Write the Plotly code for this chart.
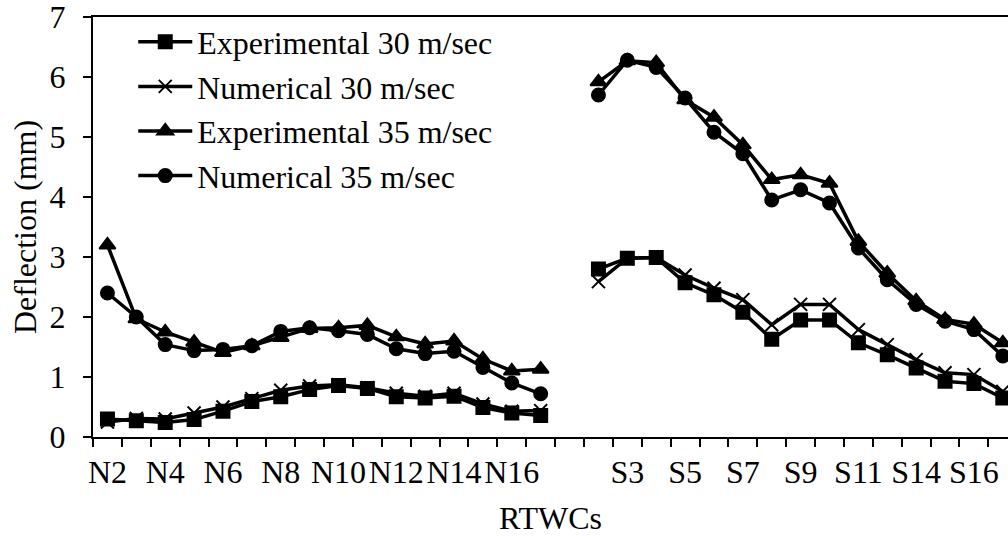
import plotly.graph_objects as go

# RTWC categories; the empty entry separates the N group from the S group
categories = [
    "N2", "N3", "N4", "N5", "N6", "N7", "N8", "N9", "N10", "N11", "N12",
    "N13", "N14", "N15", "N16", "N17", "",
    "S2", "S3", "S4", "S5", "S6", "S7", "S8", "S9", "S10", "S11", "S12",
    "S14", "S15", "S16", "S17",
]

# Deflection (mm), N group then gap then S group
exp_30 = [0.30, 0.27, 0.24, 0.29, 0.43, 0.59, 0.67, 0.79, 0.86, 0.81, 0.67,
          0.65, 0.68, 0.49, 0.40, 0.36, None,
          2.80, 2.98, 2.99, 2.57, 2.37, 2.08, 1.63, 1.95, 1.95, 1.57, 1.37,
          1.15, 0.93, 0.89, 0.65]
num_30 = [0.25, 0.31, 0.30, 0.40, 0.50, 0.64, 0.78, 0.85, 0.87, 0.82, 0.73,
          0.68, 0.73, 0.55, 0.43, 0.44, None,
          2.59, 2.98, 2.99, 2.70, 2.48, 2.29, 1.87, 2.21, 2.21, 1.79, 1.54,
          1.29, 1.07, 1.04, 0.76]
exp_35 = [3.20, 1.97, 1.75, 1.58, 1.41, 1.52, 1.66, 1.81, 1.82, 1.86, 1.67,
          1.55, 1.60, 1.30, 1.10, 1.13, None,
          5.92, 6.27, 6.24, 5.62, 5.33, 4.87, 4.29, 4.37, 4.23, 3.26, 2.73,
          2.27, 1.96, 1.88, 1.57]
num_35 = [2.40, 2.00, 1.54, 1.44, 1.46, 1.52, 1.76, 1.82, 1.77, 1.71, 1.47,
          1.39, 1.43, 1.16, 0.90, 0.72, None,
          5.70, 6.28, 6.16, 5.65, 5.08, 4.72, 3.95, 4.12, 3.90, 3.15, 2.62,
          2.21, 1.93, 1.79, 1.35]

series = [
    ("Experimental 30 m/sec", exp_30, "square", 13),
    ("Numerical 30 m/sec", num_30, "x-thin", 13),
    ("Experimental 35 m/sec", exp_35, "triangle-up", 14),
    ("Numerical 35 m/sec", num_35, "circle", 13),
]

FONT = "Liberation Serif, Times New Roman, serif"
FS = 32
x_pos = list(range(len(categories)))

fig = go.Figure()
for name, values, symbol, size in series:
    fig.add_trace(go.Scatter(
        x=x_pos, y=values, name=name, mode="lines+markers",
        connectgaps=False, cliponaxis=False,
        line=dict(color="black", width=3.5),
        marker=dict(symbol=symbol, size=size, color="black",
                    line=dict(color="black", width=2)),
    ))

label_idx = [i for i in range(0, len(categories), 2)]
fig.update_layout(
    width=1008, height=536,
    margin=dict(l=93, r=0, t=17, b=99),
    paper_bgcolor="white", plot_bgcolor="white",
    font=dict(family=FONT, size=FS, color="black"),
    showlegend=True,
    legend=dict(x=0.044, y=1.006, xanchor="left", yanchor="top",
                bgcolor="rgba(0,0,0,0)", font=dict(size=FS),
                itemwidth=54, tracegroupgap=0),
    xaxis=dict(
        range=[-0.5, 31.18], showgrid=False, zeroline=False,
        showline=True, linecolor="black", linewidth=2, mirror=True,
        tickmode="array", tickvals=label_idx,
        ticktext=[categories[i] for i in label_idx],
        ticks="", tickfont=dict(size=FS), ticklabelstandoff=6,
        minor=dict(tickmode="linear", tick0=-0.5, dtick=1, ticks="outside",
                   ticklen=8, tickwidth=2, tickcolor="black"),
        title=dict(text="RTWCs", font=dict(size=FS), standoff=21),
    ),
    yaxis=dict(
        range=[0, 7], dtick=1, showgrid=False, zeroline=False,
        showline=True, linecolor="black", linewidth=2,
        ticks="outside", ticklen=8, tickwidth=2, tickcolor="black",
        tickfont=dict(size=FS), ticklabelstandoff=11,
        ticklabeloverflow="allow",
        title=dict(text="Deflection (mm)", font=dict(size=FS), standoff=3),
    ),
)

fig.write_html("out.html")
